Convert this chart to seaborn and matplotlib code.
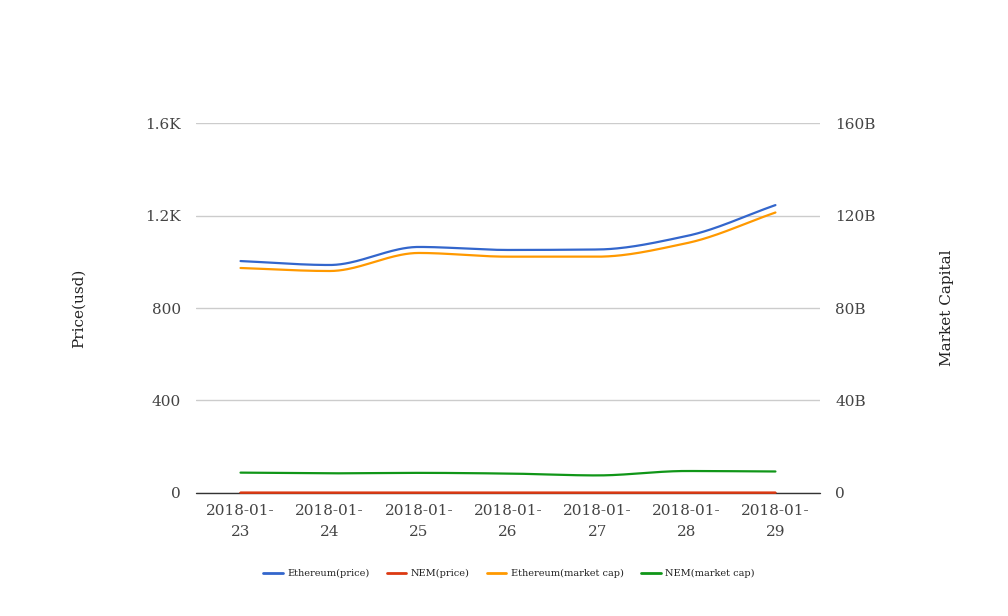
import numpy as np
import pandas as pd
import matplotlib
matplotlib.use("Agg")
import matplotlib.pyplot as plt
import seaborn as sns
from matplotlib.lines import Line2D

dates = ["2018-01-\n23", "2018-01-\n24", "2018-01-\n25", "2018-01-\n26",
         "2018-01-\n27", "2018-01-\n28", "2018-01-\n29"]
eth_price = [1003, 986, 1064, 1051, 1053, 1111, 1245]
nem_price = [0.95, 0.92, 0.96, 0.93, 0.82, 1.02, 0.99]
eth_cap = [97.3e9, 96.0e9, 103.8e9, 102.2e9, 102.2e9, 108.0e9, 121.3e9]
nem_cap = [8.8e9, 8.5e9, 8.7e9, 8.4e9, 7.6e9, 9.5e9, 9.3e9]

sns.set_theme(style="white")
plt.rcParams['font.family'] = ['DejaVu Serif']

def smooth(y, n=40):
    # monotone cubic (Fritsch-Carlson) for display only
    y = np.asarray(y, float)
    x = np.arange(len(y), dtype=float)
    d = np.diff(y)
    m = np.zeros_like(y)
    m[0], m[-1] = d[0], d[-1]
    for i in range(1, len(y) - 1):
        if d[i - 1] * d[i] <= 0:
            m[i] = 0
        else:
            m[i] = 2 / (1 / d[i - 1] + 1 / d[i])
    xs, ys = [], []
    for i in range(len(y) - 1):
        t = np.linspace(0, 1, n, endpoint=False)
        h00 = 2*t**3 - 3*t**2 + 1
        h10 = t**3 - 2*t**2 + t
        h01 = -2*t**3 + 3*t**2
        h11 = t**3 - t**2
        xs.append(x[i] + t)
        ys.append(h00*y[i] + h10*m[i] + h01*y[i+1] + h11*m[i+1])
    xs.append([x[-1]]); ys.append([y[-1]])
    return np.concatenate(xs), np.concatenate(ys)

fig = plt.figure(figsize=(10.08, 6.16), dpi=100)
ax = fig.add_axes([0.1944, 0.1997, 0.6191, 0.6006])
ax2 = ax.twinx()

c_blue, c_red, c_orange, c_green = "#3366cc", "#dc3912", "#ff9900", "#109618"
lw = 1.6

ax2.axhline(0, color="#333333", linewidth=1, zorder=1, clip_on=False)
for vals, col, a in [(eth_price, c_blue, ax), (nem_price, c_red, ax)]:
    xs, ys = smooth(vals)
    sns.lineplot(x=xs, y=ys, ax=a, color=col, linewidth=lw, sort=False)
for vals, col in [(eth_cap, c_orange), (nem_cap, c_green)]:
    xs, ys = smooth(vals)
    sns.lineplot(x=xs, y=ys, ax=ax2, color=col, linewidth=lw, sort=False)
# redraw NEM price on top of baseline
xs, ys = smooth(nem_price)
ax2.plot(xs, np.asarray(ys) * 1e8, color=c_red, linewidth=lw, zorder=4, clip_on=False)

ax.set_xlim(-0.5, 6.5)
ax.set_ylim(0, 1600)
ax2.set_ylim(0, 160e9)
ax.set_yticks([0, 400, 800, 1200, 1600])
ax.set_yticklabels(["0", "400", "800", "1.2K", "1.6K"])
ax2.set_yticks([0, 40e9, 80e9, 120e9, 160e9])
ax2.set_yticklabels(["0", "40B", "80B", "120B", "160B"])
ax.set_xticks(range(len(dates)))
ax.set_xticklabels(dates, linespacing=1.6)

ax.grid(axis="y", color="#cccccc", linewidth=1)
ax.grid(axis="x", visible=False)
ax2.grid(False)
for a in (ax, ax2):
    for s in a.spines.values():
        s.set_visible(False)
    a.tick_params(length=0, labelsize=11, colors="#444444")
ax.tick_params(axis="y", pad=11)
ax2.tick_params(axis="y", pad=11)
ax.tick_params(axis="x", pad=8)

ax.set_ylabel("Price(usd)", fontsize=11, color="#222222", labelpad=43)
ax2.set_ylabel("Market Capital", fontsize=11, color="#222222", labelpad=46)

handles = [Line2D([], [], color=c, linewidth=2) for c in (c_blue, c_red, c_orange, c_green)]
labels = ["Ethereum(price)", "NEM(price)", "Ethereum(market cap)", "NEM(market cap)"]
fig.legend(handles, labels, loc="center", bbox_to_anchor=(0.505, 0.069), ncol=4,
           frameon=False, fontsize=7, handlelength=2.0, columnspacing=1.75,
           handletextpad=0.5, labelcolor="#222222")

fig.savefig("out.png", dpi=100)
